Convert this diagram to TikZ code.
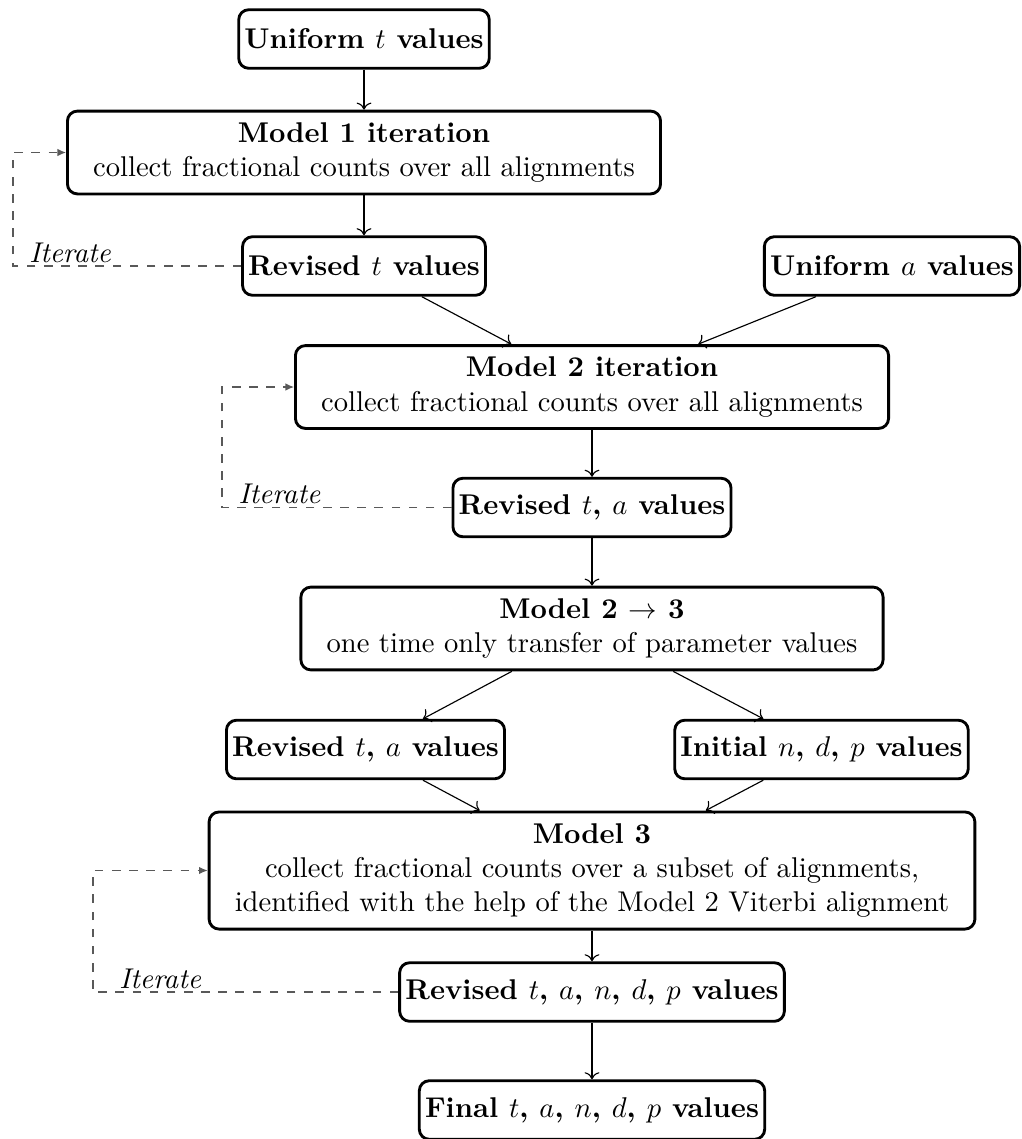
\documentclass[tikz,border=0pt]{standalone}
\usetikzlibrary{arrows.meta}
\begin{document}
\begin{tikzpicture}[x=0.35pt,y=-0.35pt,
  valbox/.style={draw,line width=1pt,rounded corners=3.5pt,inner xsep=2pt,minimum height=20.5pt,font=\bfseries},
  stagebox/.style={draw,line width=1pt,rounded corners=3.5pt,align=center,inner xsep=9pt,inner ysep=4pt},
  iterline/.style={dashed,draw=black!65,-{Latex[length=3pt,width=2.6pt]}},
  iterlabel/.style={font=\itshape,above,inner sep=1pt}]
  \useasboundingbox (0,0) rectangle (1022,1139);

  \node[valbox] (ut) at (364,39) {Uniform $t$ values};
  \node[stagebox] (m1) at (364,152.5) {\textbf{Model 1 iteration}\\collect fractional counts over all alignments};
  \node[valbox] (rt) at (364,266) {Revised $t$ values};
  \node[valbox] (ua) at (892,266) {Uniform $a$ values};
  \node[stagebox] (m2) at (592,387) {\textbf{Model 2 iteration}\\collect fractional counts over all alignments};
  \node[valbox] (rta) at (592,507.5) {Revised $t$, $a$ values};
  \node[stagebox] (m23) at (592,628.5) {\textbf{Model 2 $\rightarrow$ 3}\\one time only transfer of parameter values};
  \node[valbox] (rl) at (365.5,749.5) {Revised $t$, $a$ values};
  \node[valbox] (ini) at (821.5,749.5) {Initial $n$, $d$, $p$ values};
  \node[stagebox] (m3) at (592,870.5) {\textbf{Model 3}\\collect fractional counts over a subset of alignments,\\identified with the help of the Model 2 Viterbi alignment};
  \node[valbox] (rall) at (592,992) {Revised $t$, $a$, $n$, $d$, $p$ values};
  \node[valbox] (fin) at (592,1110) {Final $t$, $a$, $n$, $d$, $p$ values};

  \path[->]
   (ut) edge (m1)
   (m1) edge (rt)
   (rt) edge (m2)
   (ua) edge (m2)
   (m2) edge (rta)
   (rta) edge (m23)
   (m23) edge (rl)
   (m23) edge (ini)
   (rl) edge (m3)
   (ini) edge (m3)
   (m3) edge (rall)
   (rall) edge (fin);

  % iteration loops
  \coordinate (k1) at (13,0);
  \coordinate (k2) at (222,0);
  \coordinate (k3) at (93,0);
  \draw[iterline] (rt.west) -- node[iterlabel,pos=0.75]{Iterate} (rt.west -| k1) |- (m1.west);
  \draw[iterline] (rta.west) -- node[iterlabel,pos=0.75]{Iterate} (rta.west -| k2) |- (m2.west);
  \draw[iterline] (rall.west) -- node[iterlabel,pos=0.78]{Iterate} (rall.west -| k3) |- (m3.west);
\end{tikzpicture}
\end{document}
